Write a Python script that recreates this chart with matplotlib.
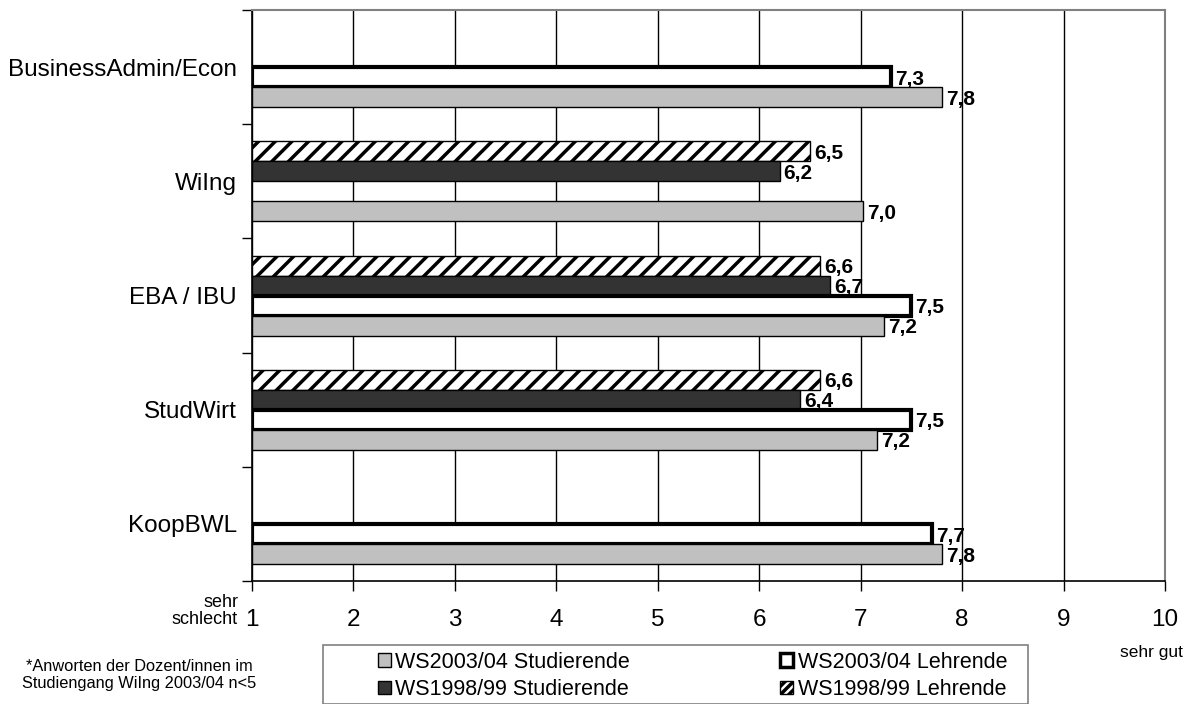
import matplotlib
matplotlib.use('Agg')
import matplotlib.pyplot as plt
from matplotlib.patches import Patch, Rectangle
import numpy as np

plt.rcParams['font.family'] = ['Liberation Sans', 'DejaVu Sans']
plt.rcParams['hatch.linewidth'] = 2.5

# categories top to bottom
categories = ['BusinessAdmin/Econ', 'WiIng', 'EBA / IBU', 'StudWirt', 'KoopBWL']

# series (nan = no bar)
lehr_9899 = [np.nan, 6.5, 6.6, 6.6, np.nan]
stud_9899 = [np.nan, 6.2, 6.7, 6.4, np.nan]
lehr_0304 = [7.3, np.nan, 7.5, 7.5, 7.7]
stud_0304 = [7.8, 7.02, 7.23, 7.16, 7.8]

legend_names = ['WS2003/04 Studierende', 'WS1998/99 Studierende',
                'WS2003/04 Lehrende', 'WS1998/99 Lehrende']
xticks = list(range(1, 11))

fig = plt.figure(figsize=(11.93, 7.04), dpi=100)
ax = fig.add_axes([252 / 1193, 1 - 581 / 704, 913 / 1193, 571 / 704])

y = np.arange(len(categories))
h = 20 / 114.2

# style for each series: (values, offset, facecolor, edge lw, hatch)
series = [
    (lehr_9899, -1.5, 'white', 1.0, '//'),
    (stud_9899, -0.5, '#333333', 1.0, None),
    (lehr_0304, 0.5, 'white', 3.0, None),
    (stud_0304, 1.5, '#c0c0c0', 1.0, None),
]

for vals, off, fc, lw, hatch in series:
    vals = np.array(vals, dtype=float)
    ok = ~np.isnan(vals)
    yy = y[ok] + off * h
    ax.barh(yy, vals[ok] - 1, left=1, height=h, color=fc, edgecolor='black',
            linewidth=lw, hatch=hatch, zorder=3)
    for yv, v in zip(yy, vals[ok]):
        ax.text(v + 0.04, yv + 0.02, f'{v:.1f}'.replace('.', ','),
                ha='left', va='center', fontsize=15, fontweight='bold',
                zorder=4)

ax.set_xlim(1, 10)
ax.set_ylim(len(categories) - 0.5, -0.5)

ax.set_xticks(xticks)
ax.set_xticklabels([str(t) for t in xticks], fontsize=17.5)
ax.tick_params(axis='x', direction='out', length=7, width=1, pad=13)

ax.set_yticks(y)
ax.set_yticklabels(categories, fontsize=17.5)
ax.tick_params(axis='y', which='major', length=0, pad=11)
ax.set_yticks(np.arange(-0.5, len(categories)), minor=True)
ax.tick_params(axis='y', which='minor', direction='out', length=7, width=1)

ax.grid(axis='x', color='black', linewidth=1, zorder=0)
ax.set_axisbelow(True)
for s in ['top', 'right']:
    ax.spines[s].set_color('#808080')
    ax.spines[s].set_linewidth(1.5)
for s in ['left', 'bottom']:
    ax.spines[s].set_color('black')
    ax.spines[s].set_linewidth(1.2)

# scale end notes
fig.text(238 / 1193, 1 - 611 / 704, 'sehr\nschlecht', ha='right', va='center',
         fontsize=13, linespacing=1.05)
fig.text(1183 / 1193, 1 - 652 / 704, 'sehr gut', ha='right', va='center',
         fontsize=12.5)
fig.text(139 / 1193, 1 - 675 / 704,
         '*Anworten der Dozent/innen im\nStudiengang WiIng 2003/04 n<5',
         ha='center', va='center', fontsize=11.8, linespacing=1.2)

# legend box
fig.patches.append(Rectangle((323 / 1193, 0), 705 / 1193, 59 / 704,
                             transform=fig.transFigure, facecolor='white',
                             edgecolor='#808080', linewidth=1.2))
handles = [
    Patch(facecolor='#c0c0c0', edgecolor='black', linewidth=1),
    Patch(facecolor='#333333', edgecolor='black', linewidth=1),
    Patch(facecolor='white', edgecolor='black', linewidth=2.5),
    Patch(facecolor='white', edgecolor='black', linewidth=1, hatch='////'),
]
fig.legend(handles, legend_names, ncol=2, frameon=False, loc='center left',
           bbox_to_anchor=(367 / 1193, 1 - 676 / 704), fontsize=15.5,
           handlelength=0.6, handleheight=0.6, handletextpad=0.2,
           columnspacing=7.0, labelspacing=0.3, borderpad=0)

fig.savefig('out.png', dpi=100)
